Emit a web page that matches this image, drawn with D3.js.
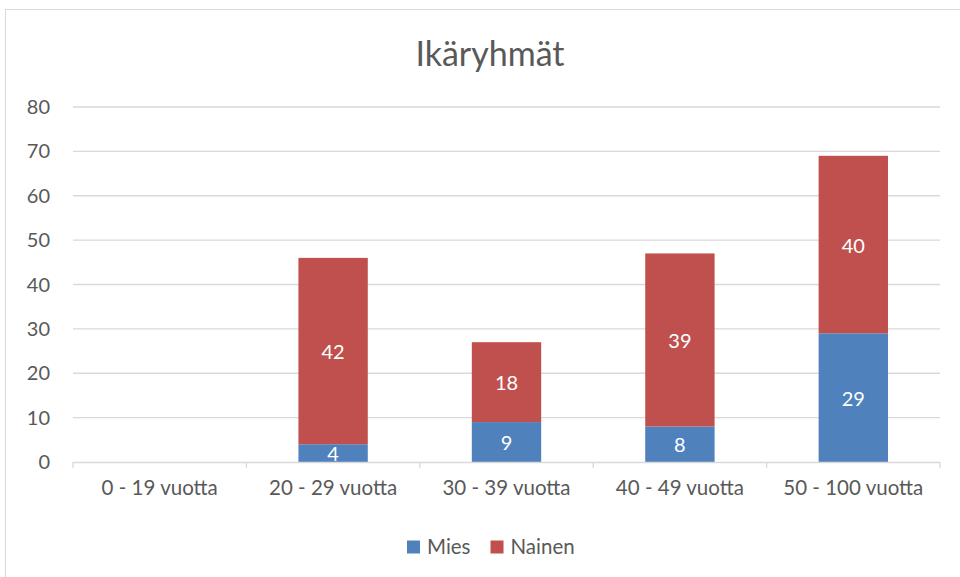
<!DOCTYPE html>
<html>
<head>
<meta charset="utf-8">
<script src="https://cdn.jsdelivr.net/npm/d3@7"></script>
<style>
  body { margin: 0; background: #fff; }
  svg { display: block; font-family: Lato, "Open Sans", sans-serif; }
</style>
</head>
<body>
<svg id="chart" width="960" height="577"></svg>
<script>
// chart data
var categories = ["0 - 19 vuotta", "20 - 29 vuotta", "30 - 39 vuotta", "40 - 49 vuotta", "50 - 100 vuotta"];
var mies = [0, 4, 9, 8, 29];
var nainen = [0, 42, 18, 39, 40];
var seriesNames = ["Mies", "Nainen"];
var yTicks = [0, 10, 20, 30, 40, 50, 60, 70, 80];

var colors = {Mies: "#4F81BD", Nainen: "#C0504D"};

var svg = d3.select("#chart");
var margin = {left: 73, right: 20, top: 107, bottom: 115};
var width = 960 - margin.left - margin.right,
    height = 577 - margin.top - margin.bottom;

// outer border
svg.append("rect")
    .attr("x", 5.5).attr("y", 9.5)
    .attr("width", 960).attr("height", 600)
    .attr("fill", "none").attr("stroke", "#d9d9d9");

svg.append("text")
    .attr("x", 490).attr("y", 66)
    .attr("text-anchor", "middle")
    .attr("font-size", 34)
    .attr("fill", "#595959")
    .text("Ikäryhmät");

var g = svg.append("g").attr("transform", "translate(" + margin.left + "," + margin.top + ")");

var x = d3.scaleBand().domain(categories).range([0, width]).paddingInner(0.6).paddingOuter(0.3);
var y = d3.scaleLinear().domain([0, 80]).range([height, 0]);

// gridlines
g.append("g").selectAll("line")
  .data(yTicks.slice(1))
  .enter().append("line")
    .attr("x1", 0).attr("x2", width)
    .attr("y1", function(d) { return y(d); })
    .attr("y2", function(d) { return y(d); })
    .attr("stroke", "#d9d9d9").attr("stroke-width", 1.3);

// y labels
g.append("g").selectAll("text")
  .data(yTicks)
  .enter().append("text")
    .attr("x", -23).attr("y", function(d) { return y(d); })
    .attr("dy", "0.35em")
    .attr("text-anchor", "end")
    .attr("font-size", 20)
    .attr("fill", "#595959")
    .text(function(d) { return d; });

// stack
var rows = categories.map(function(c, i) { return {cat: c, Mies: mies[i], Nainen: nainen[i]}; });
var stack = d3.stack().keys(seriesNames)(rows);

var layer = g.selectAll(".layer")
  .data(stack)
  .enter().append("g")
    .attr("class", "layer")
    .attr("fill", function(d) { return colors[d.key]; });

layer.selectAll("rect")
  .data(function(d) { return d; })
  .enter().append("rect")
    .attr("x", function(d) { return x(d.data.cat); })
    .attr("width", x.bandwidth())
    .attr("y", function(d) { return y(d[1]); })
    .attr("height", function(d) { return y(d[0]) - y(d[1]); });

// x axis line and ticks
var step = width / categories.length;
g.append("line")
  .attr("x1", 0).attr("x2", width)
  .attr("y1", height + 0.5).attr("y2", height + 0.5)
  .attr("stroke", "#d9d9d9").attr("stroke-width", 1.3);
g.append("g").selectAll("line")
  .data(d3.range(categories.length + 1))
  .enter().append("line")
    .attr("x1", function(d) { return d * step; })
    .attr("x2", function(d) { return d * step; })
    .attr("y1", height).attr("y2", height + 6)
    .attr("stroke", "#d9d9d9").attr("stroke-width", 1.3);

// data labels
layer.selectAll("text")
  .data(function(d) { return d; })
  .enter().append("text")
    .attr("x", function(d) { return x(d.data.cat) + x.bandwidth() / 2; })
    .attr("y", function(d) { return (y(d[0]) + y(d[1])) / 2 + 1; })
    .attr("dy", "0.35em")
    .attr("text-anchor", "middle")
    .attr("font-size", 20)
    .attr("fill", "#fff")
    .text(function(d) { return d[1] - d[0]; });

// x labels
g.append("g").selectAll("text")
  .data(categories)
  .enter().append("text")
    .attr("x", function(d) { return x(d) + x.bandwidth() / 2; })
    .attr("y", height + 33)
    .attr("text-anchor", "middle")
    .attr("font-size", 20.5)
    .attr("fill", "#595959")
    .text(function(d) { return d; });

// legend
var legend = svg.append("g").attr("transform", "translate(407,547)");
var lx = 0;
seriesNames.forEach(function(s) {
  legend.append("rect").attr("x", lx).attr("y", -6.5).attr("width", 13).attr("height", 13).attr("fill", colors[s]);
  var t = legend.append("text").attr("x", lx + 20).attr("y", 0).attr("dy", "0.35em")
    .attr("font-size", 20.5).attr("fill", "#595959").text(s);
  lx += 20 + t.node().getComputedTextLength() + 20;
});
</script>
</body>
</html>
